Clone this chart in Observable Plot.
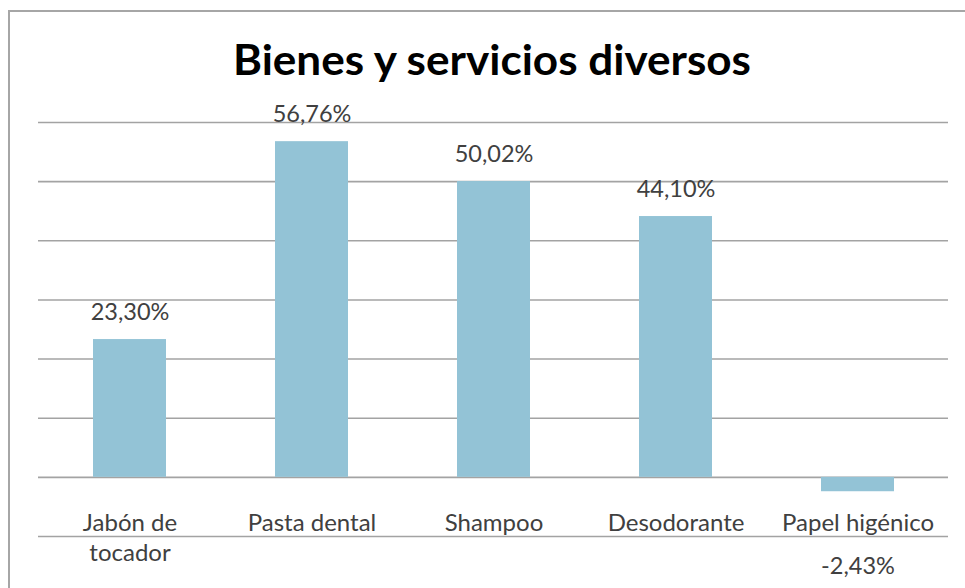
<!DOCTYPE html>
<html><head><meta charset="utf-8">
<script src="https://cdn.jsdelivr.net/npm/d3@7"></script>
<script src="https://cdn.jsdelivr.net/npm/@observablehq/plot@0.6"></script>
<style>
body{margin:0;background:#fff;}
#wrap{position:relative;width:965px;height:588px;overflow:hidden;background:#fff;}
#frame{position:absolute;left:8px;top:10px;width:2000px;height:2000px;border-left:2px solid #a6a6a6;border-top:2px solid #a6a6a6;pointer-events:none;}
#chart{position:absolute;left:0;top:0;}
</style>
</head><body>
<div id="wrap"><div id="chart"></div><div id="frame"></div></div>
<script>
const title = "Bienes y servicios diversos";
const categories = ["Jabón de tocador", "Pasta dental", "Shampoo", "Desodorante", "Papel higénico"];
const tickLabels = ["Jabón de\ntocador", "Pasta dental", "Shampoo", "Desodorante", "Papel higénico"];
const values = [23.30, 56.76, 50.02, 44.10, -2.43];
const gridTicks = [-10, 0, 10, 20, 30, 40, 50, 60];

const data = categories.map((c, i) => ({cat: c, value: values[i], label: tickLabels[i]}));
const fmt = v => d3.format(".2f")(v).replace("\u2212", "-").replace(".", ",") + "%";
const labelOf = new Map(data.map(d => [d.cat, d.label]));
const FONT = "Lato, 'Open Sans', sans-serif";

const plot = Plot.plot({
  width: 965,
  height: 588,
  marginTop: 122,
  marginBottom: 52,
  marginLeft: 38,
  marginRight: 17,
  style: {fontFamily: FONT, background: "transparent"},
  x: {domain: categories, paddingInner: 0.6, paddingOuter: 0.3},
  y: {domain: [-10, 60], axis: null},
  marks: [
    Plot.ruleY(gridTicks, {stroke: "#a3a3a3", strokeWidth: 1.6}),
    Plot.barY(data, {x: "cat", y: "value", fill: "#93c3d6"}),
    Plot.text(data.filter(d => d.value >= 0), {x: "cat", y: "value", text: d => fmt(d.value), lineAnchor: "bottom", dy: -20, fontSize: 23.5, fill: "#404040"}),
    Plot.text(data.filter(d => d.value < 0), {x: "cat", y: "value", text: d => fmt(d.value), lineAnchor: "bottom", dy: 82, fontSize: 23.5, fill: "#404040"}),
    Plot.axisX({anchor: "bottom", tickSize: 0, tickPadding: 0, dy: -27, tickFormat: c => labelOf.get(c), fontSize: 24, lineHeight: 1.25, fill: "#404040", label: null})
  ]
});
document.getElementById("chart").appendChild(plot);

d3.select(plot).append("text")
  .attr("x", 492).attr("y", 75)
  .attr("text-anchor", "middle")
  .attr("font-family", FONT)
  .attr("font-weight", "bold")
  .attr("font-size", 42)
  .attr("fill", "#000")
  .attr("textLength", 518)
  .attr("lengthAdjust", "spacingAndGlyphs")
  .text(title);
</script>
</body></html>
